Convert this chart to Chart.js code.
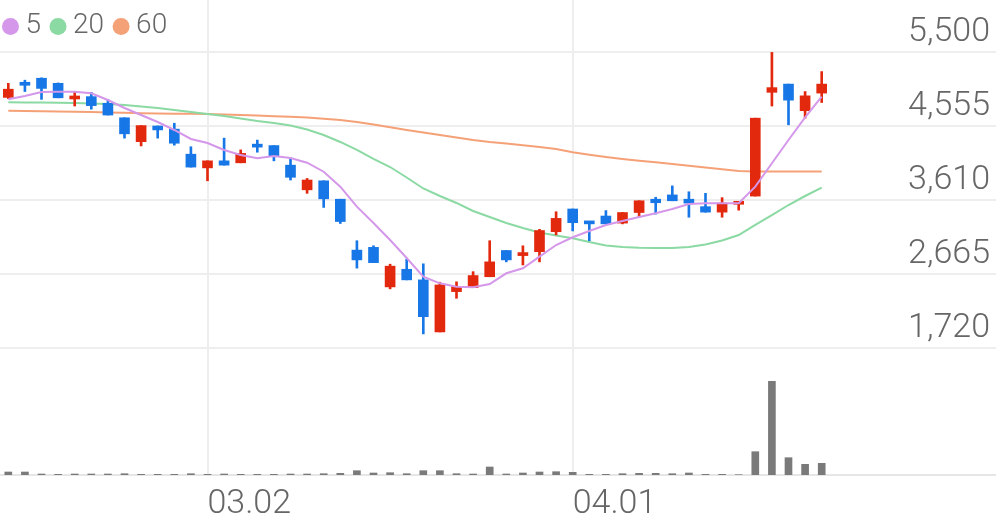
<!DOCTYPE html>
<html>
<head>
<meta charset="utf-8">
<script src="https://cdn.jsdelivr.net/npm/chart.js@4"></script>
<style>
html,body{margin:0;padding:0;background:#ffffff;}
#wrap{width:996px;height:519px;position:relative;}
</style>
</head>
<body>
<div id="wrap"><canvas id="c" width="996" height="519"></canvas></div>
<script>
// ---- data ----
const dates = ['02.13','02.14','02.17','02.18','02.19','02.20','02.21','02.24','02.25','02.26','02.27','02.28',
  '03.02','03.03','03.04','03.05','03.06','03.09','03.10','03.11','03.12','03.13','03.16','03.17','03.18','03.19','03.20',
  '03.23','03.24','03.25','03.26','03.27','03.30','03.31',
  '04.01','04.02','04.03','04.06','04.07','04.08','04.09','04.10','04.13','04.14','04.16','04.17','04.20','04.21','04.22','04.23'];
const emptySlots = 10;
const shownDates = ['03.02','04.01'];

const opens  = [4920,5085,5165,5100,4900,4930,4845,4660,4355,4555,4515,4195,4020,4110,4085,4305,4305,4055,3740,3855,
  3620,2970,3005,2500,2725,2590,1925,2440,2490,2630,2965,2900,2950,3205,3495,3325,3405,3315,3450,3620,
  3675,3620,3525,3455,3555,3660,4985,5090,4750,4975];
const highs  = [5100,5140,5170,5105,4985,4985,4895,4660,4560,4555,4590,4290,4110,4400,4250,4375,4305,4150,3885,3855,
  3620,3090,3025,2790,2855,2795,2560,2565,2695,3090,2965,3025,3235,3460,3495,3330,3475,3450,3600,3645,
  3790,3715,3695,3640,3590,4655,5495,5090,4995,5250];
const lows   = [4905,4995,4895,4915,4810,4770,4695,4400,4300,4400,4310,4030,3855,4055,4085,4220,4110,3865,3695,3515,
  3310,2740,2810,2475,2590,1900,1925,2355,2490,2630,2820,2780,2820,3165,3215,3090,3305,3305,3390,3430,
  3600,3390,3455,3390,3480,3660,4810,4570,4655,4855];
const closes = [5025,5075,5035,4915,4925,4815,4695,4455,4560,4505,4335,4030,4110,4055,4205,4285,4165,3900,3865,3625,
  3335,2845,2810,2765,2590,2120,2525,2505,2645,2820,2845,2920,3220,3375,3320,3305,3305,3450,3600,3575,
  3600,3570,3455,3570,3590,4655,5045,4885,4940,5090];
const volumes = [60,60,20,14,20,20,20,26,14,14,14,26,14,20,14,14,14,20,20,26,
  34,86,40,46,26,86,86,26,20,160,20,40,60,66,54,14,14,26,34,34,
  26,40,14,14,6,466,1874,346,214,234];
const ma5  = [4896,4938,4989,4993,4993,4973,4887,4785,4695,4606,4504,4389,4338,4249,4185,4143,4172,4146,4086,3971,
  3780,3525,3316,3099,2869,2631,2546,2503,2495,2537,2674,2738,2886,3035,3134,3214,3291,3342,3393,3440,
  3495,3559,3568,3568,3568,3780,4079,4376,4666,4929];
const ma20 = [4858,4856,4855,4853,4849,4843,4836,4823,4804,4785,4759,4734,4708,4683,4651,4619,4593,4561,4510,4440,
  4351,4249,4134,4031,3897,3757,3661,3572,3470,3393,3316,3252,3195,3157,3121,3074,3029,3010,3001,2997,
  2997,3010,3042,3093,3163,3291,3418,3546,3661,3767];
const ma60 = [4750,4747,4744,4740,4736,4734,4727,4724,4718,4715,4712,4710,4708,4702,4695,4689,4680,4672,4663,4648,
  4632,4606,4574,4538,4504,4472,4440,4408,4376,4351,4332,4310,4287,4261,4219,4187,4159,4134,4112,4091,
  4070,4047,4025,4002,3981,3974,3974,3974,3973,3973];
const priceTicks = [1720, 2665, 3610, 4555, 5500];
const maNames = ['5','20','60'];

// ---- styles ----
const UP = '#e2290e', DOWN = '#1877e6';
const PURPLE = '#d497ea', GREEN = '#8bd9a3', ORANGE = '#f5a178';
const GRID = '#eeeeee', TEXT = '#666666';
const FONT = 'Roboto';

const labels = dates.concat(Array(emptySlots).fill(''));
const candleColors = opens.map((o, i) => closes[i] >= o ? UP : DOWN);

function maDataset(name, data, color, order) {
  return {
    type: 'line', label: name, data: data, yAxisID: 'price', order: order,
    borderColor: color, backgroundColor: color, borderWidth: 2,
    pointRadius: 0, pointHoverRadius: 0, tension: 0, fill: false
  };
}

// legend of the moving-average lines, drawn inside the plot area (top-left)
const maLegend = {
  id: 'maLegend',
  afterDraw(chart) {
    const ctx = chart.ctx;
    ctx.save();
    ctx.font = '300 28px ' + FONT;
    ctx.textBaseline = 'middle';
    ctx.textAlign = 'left';
    let cx = chart.chartArea.left + 10.5;
    const cy = 26;
    chart.data.datasets.filter(d => maNames.includes(d.label)).forEach(d => {
      ctx.fillStyle = d.borderColor;
      ctx.beginPath();
      ctx.arc(cx, cy + 0.5, 8.5, 0, Math.PI * 2);
      ctx.fill();
      const tx = cx + 15;
      ctx.fillStyle = TEXT;
      ctx.fillText(d.label, tx, cy);
      cx = tx + ctx.measureText(d.label).width + 17;
    });
    ctx.restore();
  }
};

new Chart(document.getElementById('c'), {
  type: 'bar',
  data: {
    labels: labels,
    datasets: [
      maDataset(maNames[0], ma5, PURPLE, 1),
      { label: 'wick', data: lows.map((l, i) => [l, highs[i]]), backgroundColor: candleColors,
        barThickness: 2, grouped: false, yAxisID: 'price', order: 2 },
      { label: 'body', data: opens.map((o, i) => [o, closes[i]]), backgroundColor: candleColors,
        barThickness: 10, minBarLength: 3, grouped: false, yAxisID: 'price', order: 2 },
      maDataset(maNames[1], ma20, GREEN, 3),
      maDataset(maNames[2], ma60, ORANGE, 3),
      { label: 'volume', data: volumes, backgroundColor: '#7a7a7a',
        barThickness: 7, grouped: false, yAxisID: 'vol', order: 4 }
    ]
  },
  plugins: [maLegend],
  options: {
    responsive: false,
    animation: false,
    devicePixelRatio: 1,
    layout: { padding: 0 },
    plugins: {
      tooltip: { enabled: false },
      legend: { display: false }
    },
    scales: {
      x: {
        offset: true,
        grid: {
          offset: false, drawTicks: false, lineWidth: 2,
          color: (ctx) => shownDates.includes(labels[ctx.index]) ? GRID : 'rgba(0,0,0,0)'
        },
        border: { display: true, color: '#e6e6e6', width: 2 },
        ticks: {
          autoSkip: false, maxRotation: 0, minRotation: 0, align: 'start', padding: 9,
          color: TEXT, font: { family: FONT, size: 34, weight: 300 },
          callback: (v, i) => shownDates.includes(labels[i]) ? labels[i] : ''
        },
        afterFit: (s) => { s.height = 44; s.paddingLeft = 0; s.paddingRight = 0; }
      },
      price: {
        position: 'right',
        min: 98, max: 6164,
        afterBuildTicks: (s) => { s.ticks = priceTicks.map(v => ({ value: v })); },
        grid: { color: GRID, lineWidth: 2, drawTicks: false },
        border: { display: false },
        ticks: {
          mirror: true, padding: -6, labelOffset: -19,
          color: TEXT, font: { family: FONT, size: 34, weight: 300 },
          callback: (v) => Number(v).toLocaleString('en-US')
        },
        afterFit: (s) => { s.width = 0; s.paddingTop = 0; s.paddingBottom = 0; }
      },
      vol: { display: false, min: 0, max: 9500 }
    }
  }
});
</script>
</body>
</html>
